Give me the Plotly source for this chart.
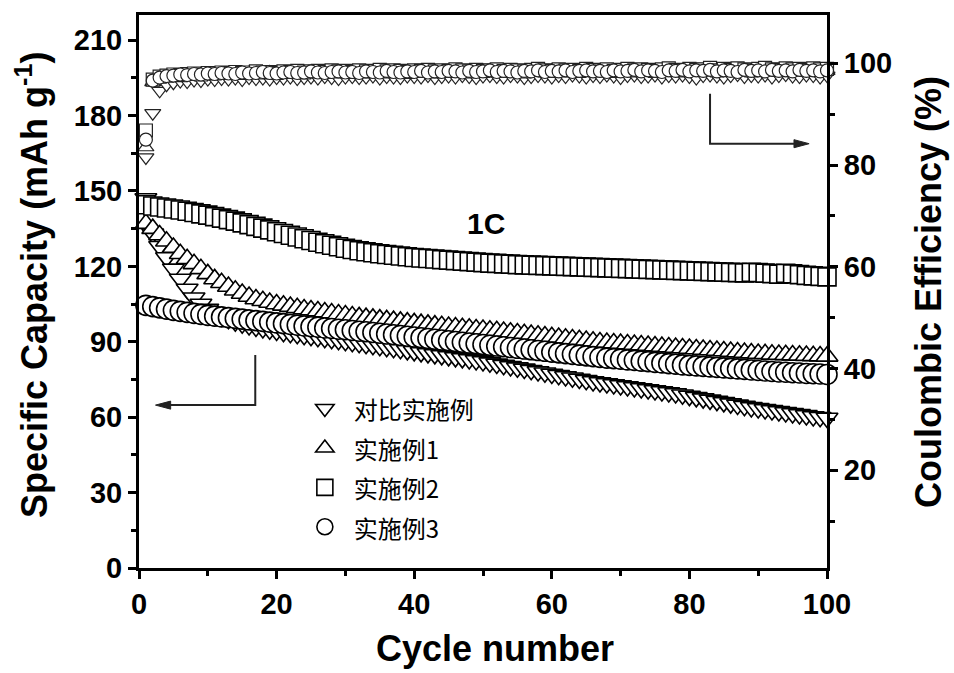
import plotly.graph_objects as go

cycles = list(range(1, 101))

names = ["对比实施例", "实施例1", "实施例2", "实施例3"]
symbols = ["triangle-down", "triangle-up", "square", "circle"]

cap_dui = [147.0, 133.0, 128.0, 123.5, 119.0, 115.0, 111.0, 107.5, 105.0, 103.0,
           101.5, 100.0, 99.0, 98.0, 97.2, 96.5, 95.9, 95.3, 94.8, 94.3,
           93.8, 93.4, 93.0, 92.6, 92.2, 91.8, 91.4, 91.0, 90.6, 90.2,
           89.8, 89.4, 89.0, 88.6, 88.2, 87.8, 87.4, 87.0, 86.6, 86.2,
           85.8, 85.4, 85.0, 84.6, 84.2, 83.8, 83.4, 83.0, 82.6, 82.2,
           81.7, 81.2, 80.7, 80.2, 79.7, 79.2, 78.7, 78.2, 77.7, 77.2,
           76.7, 76.2, 75.7, 75.2, 74.7, 74.2, 73.8, 73.4, 73.0, 72.6,
           72.2, 71.8, 71.4, 71.0, 70.6, 70.2, 69.8, 69.4, 68.9, 68.4,
           67.9, 67.4, 66.9, 66.4, 65.9, 65.4, 64.9, 64.4, 63.9, 63.5,
           63.1, 62.7, 62.3, 61.9, 61.5, 61.1, 60.7, 60.3, 60.0, 59.7]

cap_ex1 = [137.0, 135.0, 132.5, 130.0, 127.5, 125.0, 123.0, 121.0, 119.0, 117.0,
           115.0, 113.5, 112.0, 110.5, 109.2, 108.0, 107.0, 106.3, 105.6, 105.0,
           104.5, 104.0, 103.5, 103.0, 102.6, 102.2, 101.8, 101.4, 101.0, 100.6,
           100.2, 99.9, 99.6, 99.3, 99.0, 98.7, 98.4, 98.1, 97.8, 97.5,
           97.2, 96.9, 96.6, 96.4, 96.1, 95.9, 95.6, 95.4, 95.1, 94.9,
           94.6, 94.4, 94.1, 93.8, 93.5, 93.2, 92.9, 92.6, 92.3, 92.0,
           91.7, 91.4, 91.1, 90.8, 90.5, 90.2, 89.9, 89.7, 89.5, 89.3,
           89.1, 88.9, 88.7, 88.5, 88.3, 88.1, 87.9, 87.7, 87.5, 87.3,
           87.1, 86.9, 86.7, 86.5, 86.3, 86.1, 85.9, 85.7, 85.5, 85.3,
           85.2, 85.0, 84.9, 84.8, 84.7, 84.6, 84.5, 84.4, 84.3, 84.2]

cap_ex2 = [144.5, 144.0, 143.6, 143.2, 142.8, 142.4, 141.9, 141.4, 140.9, 140.4,
           139.8, 139.2, 138.6, 138.0, 137.3, 136.6, 135.9, 135.2, 134.5, 133.8,
           133.1, 132.4, 131.7, 131.0, 130.3, 129.6, 129.0, 128.4, 127.8, 127.2,
           126.7, 126.2, 125.8, 125.4, 125.0, 124.7, 124.4, 124.1, 123.8, 123.5,
           123.3, 123.1, 122.9, 122.7, 122.5, 122.3, 122.1, 121.9, 121.7, 121.5,
           121.3, 121.2, 121.0, 120.9, 120.7, 120.6, 120.5, 120.4, 120.3, 120.2,
           120.1, 120.0, 119.9, 119.8, 119.7, 119.6, 119.5, 119.4, 119.3, 119.2,
           119.1, 119.0, 118.9, 118.8, 118.7, 118.6, 118.5, 118.4, 118.3, 118.2,
           118.1, 118.0, 117.9, 117.8, 117.7, 117.6, 117.5, 117.4, 117.6, 117.5,
           117.3, 117.1, 116.9, 117.2, 117.0, 116.7, 116.4, 116.2, 116.0, 115.8]

cap_ex3 = [104.5, 104.0, 103.5, 103.0, 102.5, 102.1, 101.7, 101.3, 100.9, 100.5,
           100.2, 99.9, 99.6, 99.3, 99.0, 98.7, 98.4, 98.1, 97.8, 97.5,
           97.2, 96.9, 96.6, 96.3, 96.0, 95.8, 95.5, 95.3, 95.0, 94.8,
           94.5, 94.2, 94.0, 93.7, 93.4, 93.1, 92.8, 92.5, 92.2, 91.9,
           91.6, 91.3, 91.0, 90.7, 90.4, 90.1, 89.8, 89.5, 89.2, 88.9,
           88.6, 88.3, 88.0, 87.7, 87.4, 87.1, 86.8, 86.5, 86.2, 85.9,
           85.6, 85.3, 85.0, 84.7, 84.4, 84.1, 83.8, 83.5, 83.3, 83.1,
           82.8, 82.6, 82.3, 82.1, 81.8, 81.6, 81.3, 81.1, 80.8, 80.6,
           80.4, 80.2, 80.0, 79.8, 79.6, 79.4, 79.2, 79.0, 78.8, 78.6,
           78.4, 78.2, 78.0, 77.9, 77.7, 77.6, 77.4, 77.3, 77.2, 77.0]

ce_dui = [81.5, 90.2, 94.6, 95.8, 96.2, 96.5, 96.4, 96.7, 96.6, 96.9,
          96.8, 97.0, 96.9, 97.1, 96.8, 97.2, 97.0, 97.1, 96.9, 97.2,
          97.1, 97.3, 97.0, 97.2, 97.3, 97.1, 97.4, 97.2, 97.0, 97.3,
          97.4, 97.2, 97.3, 97.5, 97.1, 97.4, 97.3, 97.2, 97.5, 97.4,
          97.3, 97.6, 97.2, 97.4, 97.5, 97.3, 97.6, 97.4, 97.2, 97.5,
          97.6, 97.4, 97.3, 97.6, 97.5, 97.2, 97.4, 97.6, 97.5, 97.3,
          97.6, 97.4, 97.7, 97.5, 97.3, 97.6, 97.4, 97.7, 97.5, 97.2,
          97.6, 97.7, 97.4, 97.5, 97.7, 97.3, 97.6, 97.5, 97.7, 97.4,
          97.1, 97.6, 97.7, 97.5, 97.3, 97.6, 97.8, 97.4, 97.6, 97.5,
          97.7, 97.3, 97.6, 97.8, 97.5, 97.4, 97.7, 97.6, 97.3, 97.6]

ce_ex1 = [83.5, 96.3, 97.0, 97.3, 97.5, 97.4, 97.6, 97.7, 97.5, 97.8,
          97.7, 97.9, 97.8, 98.0, 97.8, 98.1, 97.9, 98.0, 98.2, 97.9,
          98.1, 98.0, 98.2, 98.1, 97.9, 98.2, 98.3, 98.1, 98.0, 98.2,
          98.3, 98.1, 98.2, 98.4, 98.2, 98.0, 98.3, 98.2, 98.4, 98.1,
          98.3, 98.2, 98.4, 98.3, 98.1, 98.4, 98.2, 98.3, 98.5, 98.2,
          98.4, 98.3, 98.1, 98.4, 98.5, 98.3, 98.2, 98.4, 98.3, 98.5,
          98.2, 98.4, 98.3, 98.5, 98.4, 98.2, 98.5, 98.3, 98.4, 98.6,
          98.3, 98.5, 98.4, 98.2, 98.5, 98.4, 98.6, 98.3, 98.5, 98.4,
          98.6, 98.3, 98.5, 98.4, 98.6, 98.5, 98.3, 98.6, 98.4, 98.5,
          98.3, 98.6, 98.5, 98.4, 98.6, 98.3, 98.5, 98.6, 98.4, 98.5]

ce_ex2 = [86.8, 96.8, 97.4, 97.6, 97.8, 97.7, 97.9, 98.0, 97.8, 98.1,
          98.0, 98.2, 98.1, 98.3, 98.1, 98.2, 98.4, 98.2, 98.3, 98.1,
          98.4, 98.3, 98.5, 98.2, 98.4, 98.5, 98.3, 98.6, 98.4, 98.5,
          98.3, 98.6, 98.4, 98.5, 98.7, 98.4, 98.6, 98.5, 98.3, 98.6,
          98.5, 98.7, 98.4, 98.6, 98.5, 98.8, 98.6, 98.4, 98.7, 98.5,
          98.6, 98.8, 98.5, 98.7, 98.6, 98.4, 98.7, 98.9, 98.6, 98.5,
          98.8, 98.6, 98.7, 98.5, 98.9, 98.7, 98.6, 98.8, 98.5, 98.7,
          98.9, 98.6, 98.8, 98.7, 98.5, 98.8, 99.0, 98.7, 98.6, 98.9,
          98.7, 98.8, 99.1, 98.6, 98.9, 98.7, 99.0, 98.8, 98.6, 98.9,
          99.1, 98.8, 98.7, 99.0, 98.8, 98.9, 98.7, 99.0, 98.8, 98.9]

ce_ex3 = [85.0, 96.6, 97.2, 97.5, 97.6, 97.8, 97.7, 97.9, 97.8, 98.0,
          97.9, 98.1, 98.0, 97.9, 98.2, 98.0, 98.1, 98.3, 98.1, 98.0,
          98.2, 98.3, 98.1, 98.2, 98.4, 98.2, 98.1, 98.3, 98.4, 98.2,
          98.3, 98.1, 98.4, 98.3, 98.2, 98.5, 98.3, 98.2, 98.4, 98.3,
          98.5, 98.2, 98.4, 98.3, 98.5, 98.4, 98.2, 98.5, 98.3, 98.4,
          98.6, 98.3, 98.5, 98.4, 98.2, 98.5, 98.4, 98.6, 98.3, 98.5,
          98.4, 98.6, 98.3, 98.5, 98.6, 98.4, 98.5, 98.3, 98.6, 98.4,
          98.5, 98.7, 98.4, 98.6, 98.5, 98.3, 98.6, 98.5, 98.7, 98.4,
          98.6, 98.5, 98.7, 98.4, 98.6, 98.5, 98.3, 98.7, 98.5, 98.6,
          98.4, 98.7, 98.5, 98.6, 98.4, 98.7, 98.5, 98.6, 98.4, 98.6]

cap_series = [cap_dui, cap_ex1, cap_ex2, cap_ex3]
ce_series = [ce_dui, ce_ex1, ce_ex2, ce_ex3]
cap_sizes = [19, 19, 18, 20]
ce_sizes = [14, 14, 13, 13]

left_ticks = [0, 30, 60, 90, 120, 150, 180, 210]
right_ticks = [20, 40, 60, 80, 100]
x_ticks = [0, 20, 40, 60, 80, 100]

FONT = "Liberation Sans, Arial, sans-serif"
CJK = "Noto Sans CJK SC, sans-serif"

fig = go.Figure()
for name, sym, vals, sz in zip(names, symbols, cap_series, cap_sizes):
    fig.add_trace(go.Scatter(
        x=cycles, y=vals, mode="markers", name=f'<span style="font-size:24px">{name}</span>',
        marker=dict(symbol=sym, size=sz, color="white",
                    line=dict(color="black", width=1.6)),
        cliponaxis=False))
for name, sym, vals, sz in zip(names, symbols, ce_series, ce_sizes):
    fig.add_trace(go.Scatter(
        x=cycles, y=vals, mode="markers", yaxis="y2", showlegend=False,
        marker=dict(symbol=sym, size=sz, color="white",
                    line=dict(color="#222", width=1.2)),
        cliponaxis=False))

axis_common = dict(showline=True, linecolor="black", linewidth=3,
                   ticks="outside", ticklen=8, tickwidth=2.5, tickcolor="black",
                   showgrid=False, zeroline=False,
                   tickfont=dict(family=FONT, size=29, color="black", weight="bold"))

fig.update_layout(
    width=954, height=673,
    margin=dict(l=139, r=127, t=15, b=105),
    paper_bgcolor="white", plot_bgcolor="white",
    xaxis=dict(range=[0, 100], tickvals=x_ticks, mirror=True,
               minor=dict(dtick=10, ticks="outside", ticklen=5, tickwidth=2.5, tickcolor="black"),
               **axis_common),
    yaxis=dict(range=[0, 220], tickvals=left_ticks,
               minor=dict(dtick=15, ticks="outside", ticklen=5, tickwidth=2.5, tickcolor="black"),
               **axis_common),
    yaxis2=dict(range=[0.8, 109.5], tickvals=right_ticks, overlaying="y", side="right",
                minor=dict(dtick=10, ticks="outside", ticklen=5, tickwidth=2.5, tickcolor="black"),
                **axis_common),
    legend=dict(x=0.228, y=0.333, xanchor="left", yanchor="top",
                font=dict(family=CJK, size=28, color="black"),
                bgcolor="rgba(0,0,0,0)", borderwidth=0, itemwidth=48),
    showlegend=True,
)

ann_font = dict(family=FONT, size=36, color="black", weight="bold")
fig.add_annotation(text="Cycle number", xref="paper", yref="paper",
                   x=(495 - 139) / 688, y=(568 - 648) / 553,
                   xanchor="center", yanchor="middle", showarrow=False, font=ann_font)
fig.add_annotation(text="Specific Capacity (mAh g<sup>-1</sup>)", xref="paper", yref="paper",
                   x=(32 - 139) / 688, y=(568 - 285) / 553, textangle=-90,
                   xanchor="center", yanchor="middle", showarrow=False, font=ann_font)
fig.add_annotation(text="Coulombic Efficiency (%)", xref="paper", yref="paper",
                   x=(928 - 139) / 688, y=(568 - 292) / 553, textangle=-90,
                   xanchor="center", yanchor="middle", showarrow=False, font=ann_font)
fig.add_annotation(text="1C", x=50.4, y=137, xref="x", yref="y", showarrow=False,
                   font=dict(family=FONT, size=30, color="black", weight="bold"))

# guide arrows (decoration): bent lines with filled heads
arrow_line = dict(color="#222", width=2)
fig.add_shape(type="path", xref="x", yref="y", line=arrow_line,
              path="M 16.9,84.7 L 16.9,64.8 L 3.5,64.8")
fig.add_shape(type="path", xref="x", yref="y", line=dict(color="#222", width=1),
              fillcolor="#222", path="M 2.4,64.8 L 4.6,66.4 L 4.6,63.2 Z")
fig.add_shape(type="path", xref="x", yref="y", line=arrow_line,
              path="M 83.0,188.7 L 83.0,168.8 L 96.2,168.8")
fig.add_shape(type="path", xref="x", yref="y", line=dict(color="#222", width=1),
              fillcolor="#222", path="M 97.4,168.8 L 95.2,170.4 L 95.2,167.2 Z")

fig.write_html("out.html")
